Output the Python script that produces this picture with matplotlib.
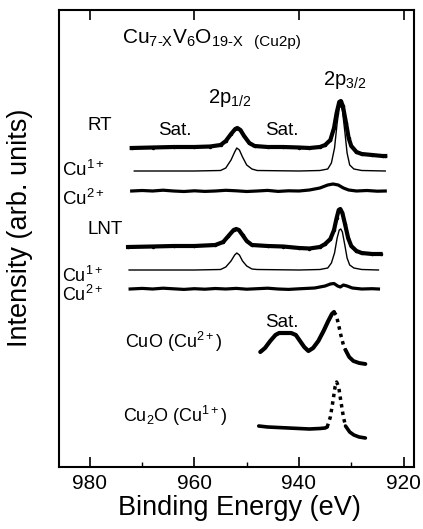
import matplotlib
matplotlib.use("Agg")
import matplotlib.pyplot as plt
from matplotlib.ticker import MultipleLocator

plt.rcParams['font.family'] = ['Liberation Sans', 'DejaVu Sans']
plt.rcParams['mathtext.fontset'] = 'custom'
plt.rcParams['mathtext.rm'] = 'Liberation Sans'
plt.rcParams['mathtext.it'] = 'Liberation Sans:italic'
plt.rcParams['mathtext.bf'] = 'Liberation Sans:bold'

# Cu2p spectra, binding energy (eV) vs intensity (arb. units, traces already offset)
rt_e = [972, 968, 964, 960, 957, 955, 954, 953, 952.2, 951.8, 951.2, 950.5, 949.5, 948.5,
        946, 943, 940, 938, 936, 935, 934, 933.3, 932.8, 932.3, 932.0, 931.6, 931.0,
        930.5, 930, 929, 928, 926, 924, 923.5]
rt_i = [319, 319.5, 320, 320, 320.5, 322, 326, 333, 338, 339, 337, 331, 324, 321,
        320, 320, 319.5, 319, 320, 322, 327, 339, 354, 365, 366, 361, 344,
        329, 321, 315, 313, 312, 311, 311]

rt_cu1_e = [971.5, 960, 955, 954, 953, 952.3, 951.9, 951.4, 950.8, 950, 949, 948,
            940, 936, 934.5, 933.8, 933.2, 932.7, 932.3, 932.0, 931.7, 931.2, 930.8,
            930.3, 929.5, 928, 923.5]
rt_cu1_i = [296, 296, 296.5, 299, 307, 315, 319, 317, 310, 302, 298, 296.5,
            296, 296.5, 298, 304, 319, 344, 359, 361, 357, 334, 314,
            302, 298, 296.5, 296]

rt_cu2_e = [972, 970, 968, 966, 964, 962, 960, 958, 956, 954, 952, 950, 948, 946, 944,
            942, 940, 938, 936, 934.5, 933.5, 932.5, 931.5, 930.5, 929, 927, 925, 923.5]
rt_cu2_i = [276, 276.5, 276, 276.8, 276, 275.5, 276.2, 275.6, 276, 276.7, 276.2, 275.5,
            276, 276.6, 275.6, 276.2, 276, 277, 279, 282, 283, 282, 279, 277, 276, 276.5,
            275.8, 276]

lnt_e = [972.7, 968, 964, 960, 956, 954.5, 953.5, 952.5, 952, 951.5, 950.8, 950, 949,
         946, 943, 940, 938, 936, 935, 934, 933.3, 932.8, 932.4, 932.1, 931.7, 931.2,
         930.6, 930, 929, 928, 926, 924.4]
lnt_i = [220, 220.5, 221, 221, 222, 225, 231, 237, 238, 237, 232, 226, 222,
         221, 220.5, 219, 218.5, 220, 223, 228, 237, 249, 257, 258, 254, 243,
         229, 221, 216, 214, 213, 213]

lnt_cu1_e = [972.5, 960, 955, 954, 953, 952.3, 951.9, 951.4, 950.8, 950, 949, 948,
             940, 936, 934.5, 933.8, 933.2, 932.7, 932.3, 932.0, 931.7, 931.2, 930.8,
             930.3, 929.5, 928, 924.8]
lnt_cu1_i = [197, 197, 197.5, 200, 206, 212, 214, 212, 206, 201, 198, 197.5,
             197, 197.5, 199, 204, 214, 229, 237, 238, 235, 221, 209,
             202, 199, 197.5, 197]

lnt_cu2_e = [972.3, 970, 968, 966, 964, 962, 960, 958, 956, 954, 952, 950, 948, 946,
             944, 942, 940, 937, 935, 934, 933.3, 932.6, 932.1, 931.5, 930.8, 929.8,
             928, 926, 924.8]
lnt_cu2_i = [178, 178.6, 178, 178.8, 178.2, 177.6, 178.3, 177.8, 178.5, 178, 178.6, 177.8,
             178.3, 178.8, 178, 177.6, 178.2, 179, 181, 183, 183.5, 181, 180, 182, 181,
             179, 178, 178.3, 178]

cuo_e = [947.4, 946.5, 945.5, 944.5, 943.8, 942.5, 941.5, 940.6, 939.8, 939, 938.2,
         937.3, 936.3, 935.3, 934.4, 933.7, 933.3]
cuo_i = [115, 119, 126, 132, 134, 134, 134, 132, 126, 120, 116,
         119, 126, 136, 146, 153, 155]
cuo_drop_e = [933.3, 932.9, 932.5, 932.0, 931.5, 931.1]
cuo_drop_i = [155, 152, 144, 132, 122, 117]
cuo_tail_e = [931.1, 930.4, 929.6, 928.5, 927.3]
cuo_tail_i = [117, 110, 106, 104, 103]

cu2o_e = [947.7, 946, 944, 942, 940, 938, 936, 935, 934.6]
cu2o_i = [41, 40, 39.5, 39, 38.5, 38, 38.5, 39, 40]
cu2o_peak_e = [934.6, 934.0, 933.5, 933.1, 932.8, 932.4, 932.0, 931.5, 931.1]
cu2o_peak_i = [40, 50, 66, 80, 85, 80, 66, 50, 41]
cu2o_tail_e = [931.1, 930.3, 929.5, 928.5, 927.3]
cu2o_tail_i = [41, 35, 32, 30, 29]

fig = plt.figure(figsize=(4.23, 5.29), dpi=100)
ax = fig.add_axes([58.5 / 423, 62 / 529, 355.5 / 423, 457 / 529])

ax.plot(rt_e, rt_i, color='black', lw=3.0, marker='.', ms=3)
ax.plot(rt_cu1_e, rt_cu1_i, color='black', lw=1.0)
ax.plot(rt_cu2_e, rt_cu2_i, color='black', lw=2.3)
ax.plot(lnt_e, lnt_i, color='black', lw=3.0, marker='.', ms=3)
ax.plot(lnt_cu1_e, lnt_cu1_i, color='black', lw=1.0)
ax.plot(lnt_cu2_e, lnt_cu2_i, color='black', lw=2.3)
ax.plot(cuo_e, cuo_i, color='black', lw=3.0, solid_capstyle='round')
ax.plot(cuo_drop_e, cuo_drop_i, color='black', lw=2.5, ls=(0, (1, 1.2)))
ax.plot(cuo_tail_e, cuo_tail_i, color='black', lw=2.8, solid_capstyle='round')
ax.plot(cu2o_e, cu2o_i, color='black', lw=2.6, solid_capstyle='round')
ax.plot(cu2o_peak_e, cu2o_peak_i, color='black', lw=2.5, ls=(0, (1, 1.2)))
ax.plot(cu2o_tail_e, cu2o_tail_i, color='black', lw=2.6, solid_capstyle='round')

ax.set_xlim(986, 918)
ax.set_ylim(0, 457)
ax.xaxis.set_major_locator(MultipleLocator(20))
ax.xaxis.set_minor_locator(MultipleLocator(10))
ax.set_yticks([])
ax.tick_params(axis='x', which='major', direction='in', length=7, width=1.2,
               top=True, labelsize=15, pad=5)
ax.tick_params(axis='x', which='minor', direction='in', length=3.5, width=1.0,
               top=False)
for s in ax.spines.values():
    s.set_linewidth(1.5)

# labels inside the frame
ax.text(973.9, 423, r'Cu$_{\text{7-X}}$V$_{\text{6}}$O$_{\text{19-X}}$', fontsize=15,
        va='baseline')
ax.text(948.6, 421, '(Cu2p)', fontsize=11, va='baseline')
ax.text(935.5, 382, r'2p$_{3/2}$', fontsize=14.5, va='baseline')
ax.text(957.4, 364, r'2p$_{1/2}$', fontsize=14.5, va='baseline')
ax.text(980.4, 337, 'RT', fontsize=13.5, va='baseline')
ax.text(967.0, 332, 'Sat.', fontsize=13.5, va='baseline')
ax.text(946.5, 332, 'Sat.', fontsize=13.5, va='baseline')
ax.text(985.4, 291, r'Cu$^{1+}$', fontsize=13.5, va='baseline')
ax.text(985.4, 262, r'Cu$^{2+}$', fontsize=13.5, va='baseline')
ax.text(980.4, 233, 'LNT', fontsize=13.5, va='baseline')
ax.text(985.4, 185, r'Cu$^{1+}$', fontsize=13, va='baseline')
ax.text(985.4, 166, r'Cu$^{2+}$', fontsize=13, va='baseline')
ax.text(946.5, 140, 'Sat.', fontsize=13.5, va='baseline')
ax.text(973.3, 119, r'CuO (Cu$^{2+}$)', fontsize=13, va='baseline')
ax.text(973.7, 45, r'Cu$_2$O (Cu$^{1+}$)', fontsize=13, va='baseline')

fig.text(239.5 / 423, 1 - 515 / 529, 'Binding Energy (eV)', fontsize=19.5,
         ha='center', va='baseline')
fig.text(20 / 423, 1 - 228 / 529, 'Intensity (arb. units)', fontsize=19.5,
         ha='center', va='center', rotation=90)

fig.savefig('out.png', dpi=100)
